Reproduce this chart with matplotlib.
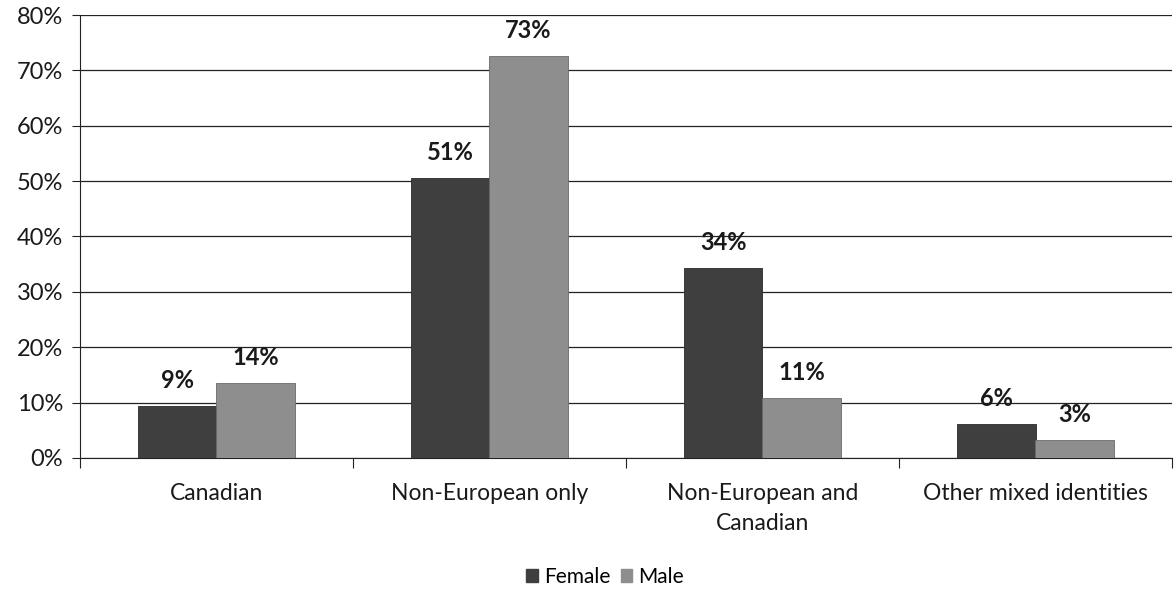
import matplotlib.pyplot as plt
import matplotlib.patches as mpatches
import numpy as np

# identity groups and shares (%)
categories = ['Canadian', 'Non-European only', 'Non-European and\nCanadian', 'Other mixed identities']
female = [9.4, 50.6, 34.3, 6.1]
male = [13.6, 72.6, 10.9, 3.2]
yticks = [0, 10, 20, 30, 40, 50, 60, 70, 80]

plt.rcParams['font.family'] = ['Lato', 'DejaVu Sans']

fig = plt.figure(figsize=(11.74, 6.01), dpi=100)
ax = fig.add_axes([80 / 1174, 1 - 458 / 601, 1092 / 1174, 443 / 601])

x = np.arange(len(categories))
w = 0.286
c_f, c_m = '#3f3f3f', '#8e8e8e'
bf = ax.bar(x - w / 2, female, w, color=c_f, edgecolor='#2a2a2a', linewidth=0.6, zorder=3)
bm = ax.bar(x + w / 2, male, w, color=c_m, edgecolor='#6a6a6a', linewidth=0.6, zorder=3)

for bars in (bf, bm):
    for b in bars:
        v = b.get_height()
        ax.text(b.get_x() + b.get_width() / 2, v + 4.6, f'{round(v)}%', ha='center', va='center',
                fontsize=17, fontweight='bold', color='#1a1a1a')

ax.set_xlim(-0.5, len(categories) - 0.5)
ax.set_ylim(0, 80)
ax.set_yticks(yticks)
ax.set_yticklabels([f'{t}%' for t in yticks], fontsize=17, color='#1a1a1a')
ax.yaxis.grid(True, color='#222222', linewidth=0.9, zorder=0)
ax.set_axisbelow(True)

# category labels sit at centres, tick marks at group boundaries
ax.set_xticks(np.arange(len(categories) + 1) - 0.5)
ax.set_xticklabels([])
ax.tick_params(axis='x', length=7, color='#222222')
ax.tick_params(axis='y', length=6, color='#222222', pad=6)
for i, c in enumerate(categories):
    ax.text(i, -4.6, c, ha='center', va='top', fontsize=16.5, color='#1a1a1a', linespacing=1.5)

for s in ('top', 'right'):
    ax.spines[s].set_visible(False)
ax.spines['left'].set_color('#222222')
ax.spines['bottom'].set_color('#222222')

handles = [mpatches.Patch(color=c_f, label='Female'), mpatches.Patch(color=c_m, label='Male')]
fig.legend(handles=handles, loc='center', bbox_to_anchor=(605 / 1174, 1 - 577 / 601), ncol=2,
           frameon=False, fontsize=15, handlelength=0.55, handleheight=0.55, handletextpad=0.3,
           columnspacing=0.5)

fig.savefig('out.png', dpi=100)
